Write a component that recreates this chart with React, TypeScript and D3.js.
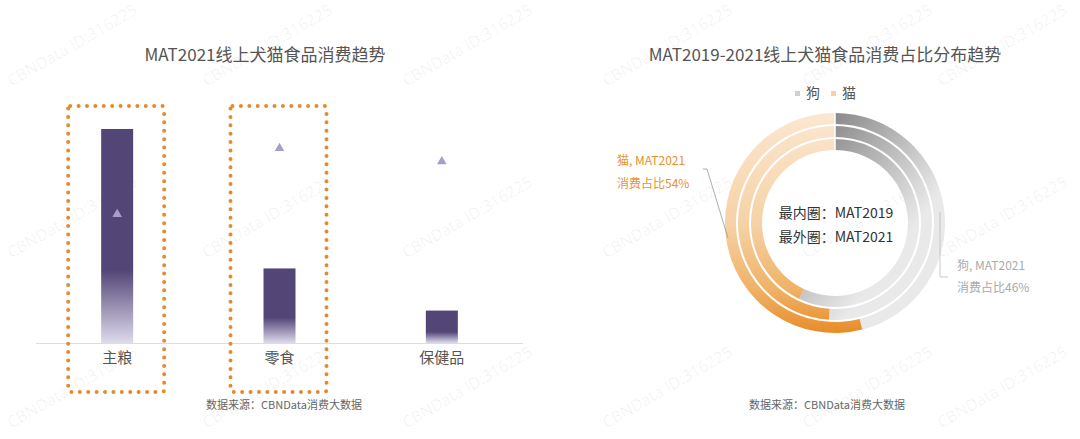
import React from "react";
import * as d3 from "d3";

const barCategories = ["主粮", "零食", "保健品"];
const barValues = [66, 23, 10];
const growthValues = [0.39, 0.59, 0.55];
const highlighted = ["主粮", "零食"];

const ringYears = ["MAT2019", "MAT2020", "MAT2021"];
const dogShares = [0.57, 0.51, 0.46];
const catShares = [0.43, 0.49, 0.54];
const legendItems = ["狗", "猫"];

const leftTitle = "MAT2021线上犬猫食品消费趋势";
const rightTitle = "MAT2019-2021线上犬猫食品消费占比分布趋势";
const sourceText = "数据来源：CBNData消费大数据";
const watermark = "CBNData ID:316225";

const FONT = "'Noto Sans CJK SC', 'Noto Sans', sans-serif";

export default function App() {
  const W = 1080;
  const H = 439;

  const x = d3.scaleBand<string>().domain(barCategories).range([36, 523]).paddingInner(0).paddingOuter(0);
  const y = d3.scaleLinear().domain([0, 66]).range([343, 129]);
  const y2 = d3.scaleLinear().domain([0, 1]).range([343, 13]);
  const barW = 32;

  const cx = 835;
  const cy = 223;
  const rings = [
    { inner: 73, outer: 84 },
    { inner: 86, outer: 97 },
    { inner: 99, outer: 110 },
  ];
  const pie = d3.pie<number>().sort(null).value((d) => d);

  const wmXs = [75, 270, 470, 670, 870, 1005];
  const wmYs = [50, 222, 392];

  const tri = d3.symbol().type(d3.symbolTriangle).size(40)();

  return (
    <svg width={W} height={H} style={{ display: "block", position: "absolute", left: 0, top: 0, background: "#fff" }} fontFamily={FONT}>
      <defs>
        <linearGradient id="barGrad" x1="0" y1="0" x2="0" y2="1">
          <stop offset="0" stopColor="#534677" />
          <stop offset="0.66" stopColor="#534677" />
          <stop offset="1" stopColor="#dedaec" />
        </linearGradient>
        <linearGradient id="catGradLocal" gradientUnits="userSpaceOnUse" x1={0} y1={-110} x2={0} y2={110}>
          <stop offset="0" stopColor="#fbe7d1" />
          <stop offset="0.5" stopColor="#f6d2a6" />
          <stop offset="0.8" stopColor="#efb267" />
          <stop offset="1" stopColor="#e88c2a" />
        </linearGradient>
        <linearGradient id="dogGradLocal" gradientUnits="userSpaceOnUse" x1={0} y1={-110} x2={105} y2={-30}>
          <stop offset="0" stopColor="#8a8a8a" />
          <stop offset="1" stopColor="#e9e9e9" />
        </linearGradient>
      </defs>

      {/* watermarks */}
      {wmYs.map((wy) =>
        wmXs.map((wx) => (
          <text key={`${wx}-${wy}`} x={wx} y={wy} textAnchor="middle" fontSize={16} fill="#000" fillOpacity={0.06} fontFamily="'Open Sans', sans-serif" transform={`rotate(-30 ${wx} ${wy})`}>{watermark}</text>
        ))
      )}

      {/* titles */}
      <text x={265} y={61} textAnchor="middle" fontSize={17} fill="#555">{leftTitle}</text>
      <text x={825} y={61} textAnchor="middle" fontSize={17} fill="#555">{rightTitle}</text>

      {/* left bar chart */}
      <line x1={36} x2={523} y1={343.5} y2={343.5} stroke="#dcdce4" strokeWidth={1} />
      {barCategories.map((c, i) => {
        const cxB = (x(c) as number) + x.bandwidth() / 2;
        return (
          <g key={c}>
            <rect x={cxB - barW / 2} y={y(barValues[i])} width={barW} height={343 - y(barValues[i])} fill="url(#barGrad)" />
            <path d={tri as string} transform={`translate(${cxB},${y2(growthValues[i])})`} fill="#a99dca" />
            <text x={cxB} y={363} textAnchor="middle" fontSize={15} fill="#555">{c}</text>
          </g>
        );
      })}
      {highlighted.map((c) => {
        const cxB = (x(c) as number) + x.bandwidth() / 2 - 1;
        return (
          <rect key={c} x={cxB - 48} y={106} width={96} height={286} rx={2} fill="none" stroke="#e88a2b" strokeWidth={4} strokeDasharray="0 8.4" strokeLinecap="round" />
        );
      })}
      <text x={284} y={409} textAnchor="middle" fontSize={11} fill="#666">{sourceText}</text>

      {/* donut */}
      {ringYears.map((yr, i) => {
        const arcs = pie([dogShares[i], catShares[i]]);
        const arc = d3.arc<d3.PieArcDatum<number>>().innerRadius(rings[i].inner).outerRadius(rings[i].outer);
        return (
          <g key={yr} transform={`translate(${cx},${cy})`}>
            <path d={arc(arcs[0]) as string} fill="url(#dogGradLocal)" />
            <path d={arc(arcs[1]) as string} fill="url(#catGradLocal)" />
          </g>
        );
      })}
      <line x1={cx} x2={cx} y1={cy - 112} y2={cy - 72} stroke="#fff" strokeWidth={1.5} />

      {/* legend */}
      <rect x={795} y={91} width={5} height={5} fill="#cfcfcf" />
      <text x={806} y={98} fontSize={14} fill="#555">{legendItems[0]}</text>
      <rect x={831} y={91} width={5} height={5} fill="#f6d2a6" />
      <text x={842} y={98} fontSize={14} fill="#555">{legendItems[1]}</text>

      {/* center text */}
      <text x={cx + 1} y={218} textAnchor="middle" fontSize={14} fill="#333">最内圈：{ringYears[0]}</text>
      <text x={cx + 1} y={242} textAnchor="middle" fontSize={14} fill="#333">最外圈：{ringYears[2]}</text>

      {/* labels */}
      <polyline points="703,169 707,169 728,238" fill="none" stroke="#999" strokeWidth={0.8} />
      <text x={617} y={165} fontSize={12} fill="#e8922e">猫, {ringYears[2]}</text>
      <text x={617} y={188} fontSize={12} fill="#e8922e">消费占比{Math.round(catShares[2] * 100)}%</text>
      <polyline points="940,212 940,277 948,277" fill="none" stroke="#bbb" strokeWidth={0.8} />
      <text x={957} y={270} fontSize={12} fill="#aaa">狗, {ringYears[2]}</text>
      <text x={957} y={292} fontSize={12} fill="#aaa">消费占比{Math.round(dogShares[2] * 100)}%</text>

      <text x={827} y={409} textAnchor="middle" fontSize={11} fill="#666">{sourceText}</text>
    </svg>
  );
}
